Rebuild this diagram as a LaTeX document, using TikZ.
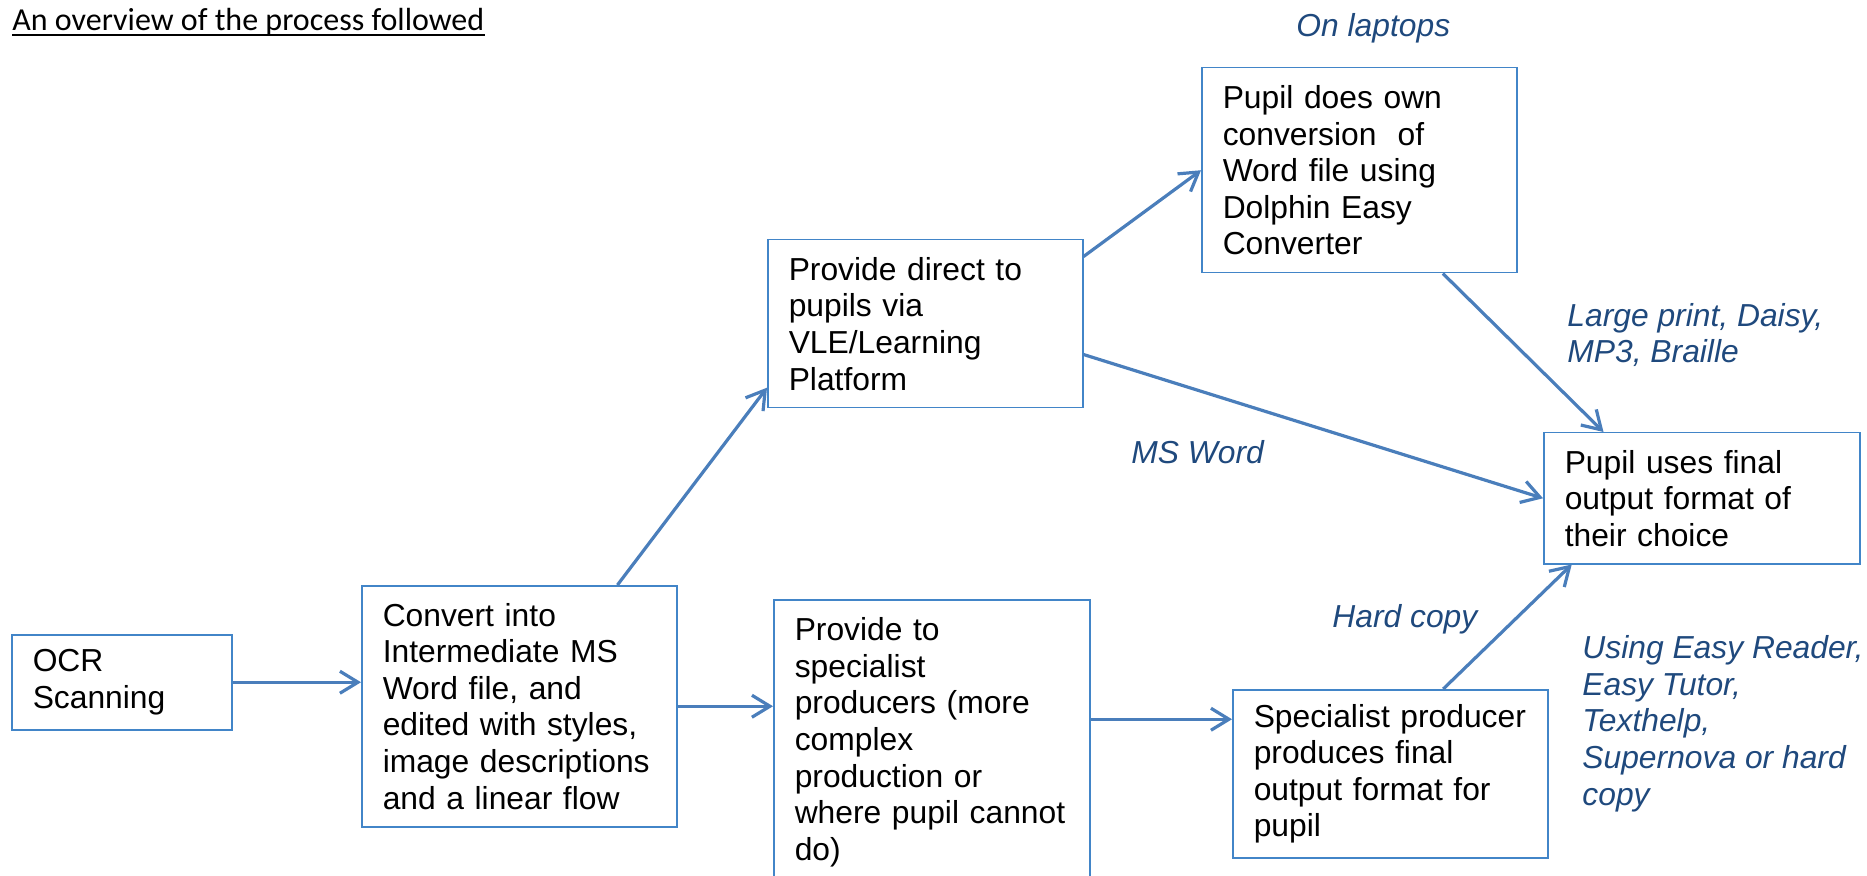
\documentclass[tikz,border=0pt]{standalone}
\usepackage{fontspec}
\setmainfont{Liberation Sans}
\newfontfamily\titlefont{Carlito}
\usetikzlibrary{arrows.meta}
\definecolor{arrowblue}{RGB}{74,126,187}
\definecolor{edgeblue}{RGB}{66,133,200}
\definecolor{noteblue}{RGB}{31,73,125}
\tikzset{
  box/.style={draw=edgeblue, line width=0.75pt, anchor=north west, inner xsep=10.5pt, inner ysep=0pt, text width=136.5pt, align=left, font=\fontsize{15.9}{18.3}\selectfont},
  flow/.style={draw=arrowblue, line width=1.6pt, -{Straight Barb[length=9pt,width=11pt]}},
  note/.style={anchor=base west, inner sep=0pt, text=noteblue, align=left, font=\fontsize{15.9}{18.3}\selectfont\itshape}
}
\begin{document}
\begin{tikzpicture}[x=0.5pt,y=-0.5pt]
\useasboundingbox (0,0) rectangle (1867,876);
\node[anchor=base west, inner sep=0pt, font=\titlefont\fontsize{16}{19}\selectfont] (title) at (12,31) {An overview of the process followed};
\draw[line width=1pt] ([yshift=-2pt]title.base west) -- ([yshift=-2pt]title.base east);

\node[box, text width=89pt, minimum height=47.5pt] (ocr) at (11,634) {OCR\\Scanning};
\node[box, minimum height=120.5pt] (convert) at (361,585) {Convert into\\Intermediate MS\\Word file, and\\edited with styles,\\image descriptions\\and a linear flow};
\node[box, minimum height=84pt] (direct) at (767,239) {Provide direct to\\pupils via\\VLE/Learning\\Platform};
\node[box, minimum height=102.5pt] (laptop) at (1201,67) {Pupil does own\\conversion~ of\\Word file using\\Dolphin Easy\\Converter};
\node[box, text width=137pt, minimum height=65.5pt] (final) at (1543,432) {Pupil uses final\\output format of\\their choice};
\node[box, text width=137pt, minimum height=142.5pt] (provspec) at (773,599) {Provide to\\specialist\\producers (more\\complex\\production or\\where pupil cannot\\do)};
\node[box, minimum height=84pt] (specialist) at (1232,689) {Specialist producer\\produces final\\output format for\\pupil};

\node[note] (onlaptops) at (1296,37) {On laptops};
\node[note] (formats) at (1567,363) {Large print, Daisy,\\MP3, Braille};
\node[note] (msword) at (1131,464) {MS Word};
\node[note] (hardcopy) at (1332,627) {Hard copy};
\node[note] (readers) at (1582,805) {Using Easy Reader,\\Easy Tutor,\\Texthelp,\\Supernova or hard\\copy};

\draw[flow] (ocr.east) -- (ocr.east -| convert.west);
\draw[flow] (convert.east) -- (convert.east -| provspec.west);
\draw[flow] (provspec.east |- specialist.161) -- (specialist.161);
\draw[flow] (convert.51) -- (direct.202);
\draw[flow] (direct.23) -- (laptop.west);
\draw[flow] (direct.-11) -- (final.west);
\draw[flow] (laptop.-51) -- (final.146);
\draw[flow] (specialist.58) -- (final.207);
\end{tikzpicture}
\end{document}
